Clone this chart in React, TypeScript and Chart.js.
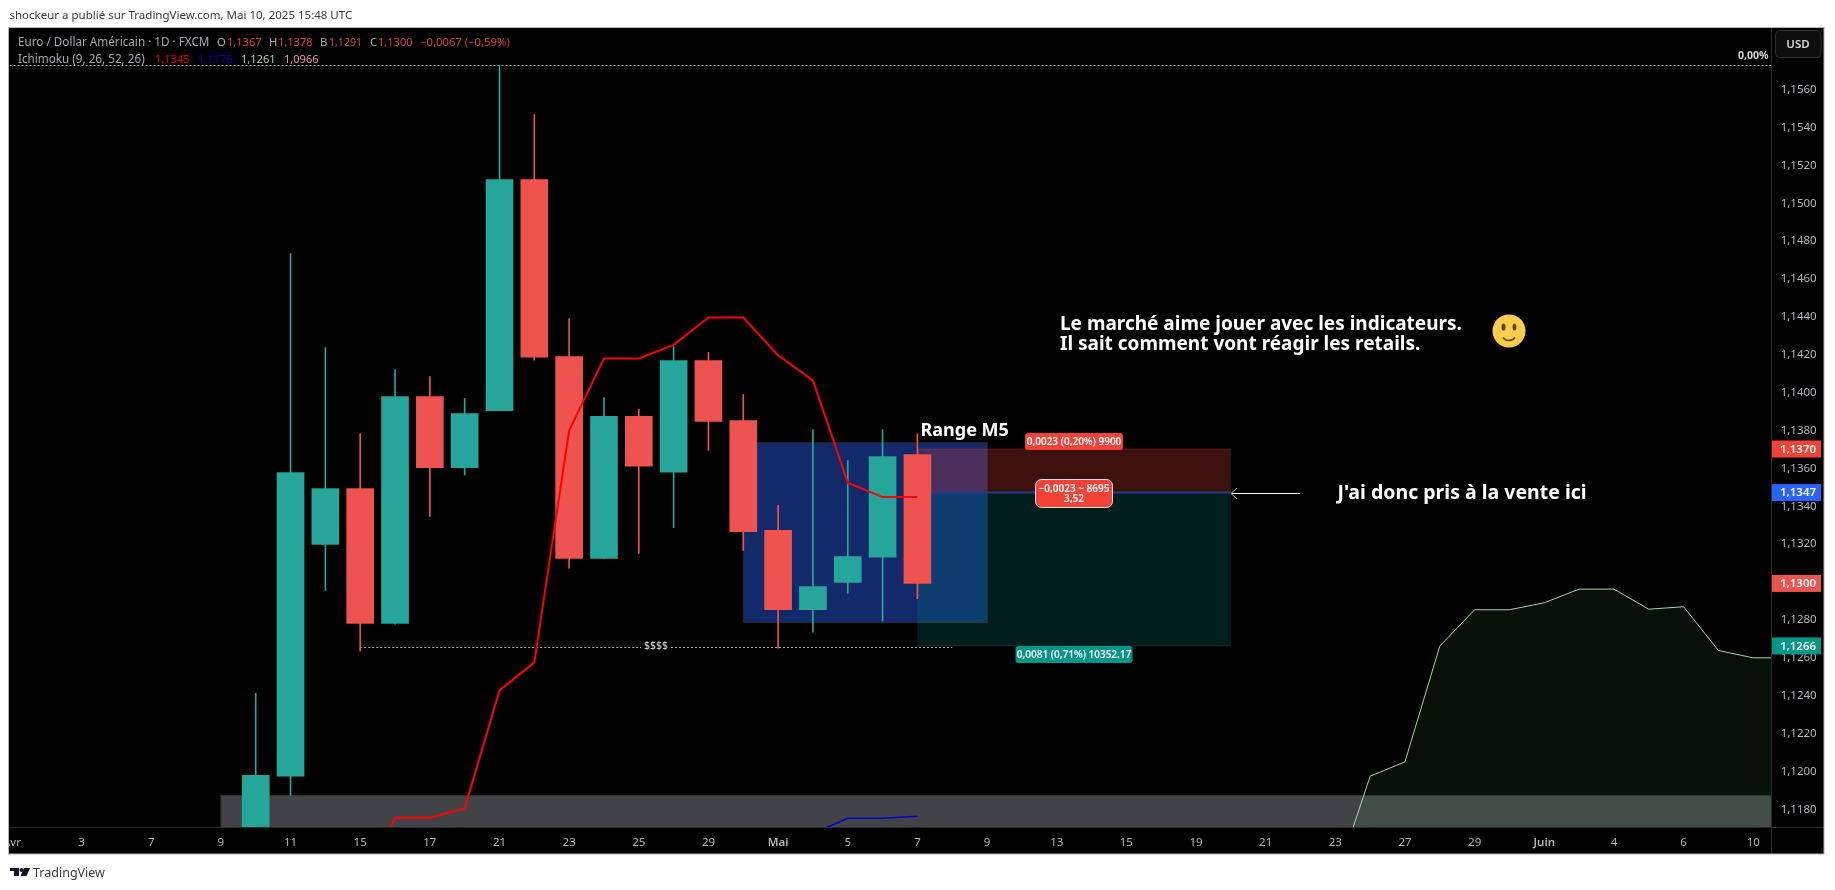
import React, { useEffect, useRef } from "react";
import { Chart, registerables } from "chart.js";

Chart.register(...registerables);

// ---------- data ----------
const categories = [
  "04-01","04-02","04-03","04-04","04-07","04-08","04-09","04-10","04-11","04-14","04-15","04-16","04-17","04-18",
  "04-21","04-22","04-23","04-24","04-25","04-28","04-29","04-30","05-01","05-02","05-05","05-06","05-07","05-08",
  "05-09","05-12","05-13","05-14","05-15","05-16","05-19","05-20","05-21","05-22","05-23","05-26","05-27","05-28",
  "05-29","05-30","06-02","06-03","06-04","06-05","06-06","06-09","06-10",
];
const tickLabels = ["Avr","3","7","9","11","15","17","21","23","25","29","Mai","5","7","9","13","15","19","21","23","27","29","Juin","4","6","10"];
const candleDates = ["04-10","04-11","04-14","04-15","04-16","04-17","04-18","04-21","04-22","04-23","04-24","04-25","04-28","04-29","04-30","05-01","05-02","05-05","05-06","05-07"];
const opens  = [1.0950,1.11972,1.13196,1.13491,1.12779,1.13977,1.13602,1.13903,1.15123,1.14188,1.13122,1.13872,1.13578,1.14167,1.1385,1.1327,1.12852,1.12995,1.13129,1.1367];
const closes = [1.11976,1.13576,1.13491,1.12779,1.13977,1.13602,1.13887,1.15123,1.14185,1.13122,1.13872,1.13609,1.14167,1.13845,1.13264,1.12852,1.12974,1.13132,1.1366,1.1299];
const highs  = [1.12409,1.14732,1.14236,1.13782,1.14118,1.14083,1.13967,1.15725,1.15466,1.14389,1.13972,1.13909,1.14241,1.1421,1.13988,1.13402,1.13803,1.13639,1.13803,1.1378];
const lows   = [1.0950,1.1187,1.12953,1.12632,1.12775,1.13344,1.13562,1.13903,1.14169,1.13071,1.13122,1.13148,1.13285,1.13692,1.13164,1.12648,1.12733,1.12939,1.12791,1.1291];
const tenkanDates = ["04-16","04-17","04-18","04-21","04-22","04-23","04-24","04-25","04-28","04-29","04-30","05-01","05-02","05-05","05-06","05-07"];
const tenkan = [1.11753,1.11753,1.11802,1.12425,1.12573,1.13798,1.14178,1.14178,1.1425,1.14394,1.14394,1.14195,1.14062,1.13522,1.13446,1.13446];
const tenkanLead = { date: "04-15", value: 1.1136 };
const kijunDates = ["05-02","05-05","05-06","05-07"];
const kijun = [1.1167,1.1175,1.1175,1.1176];
const senkouDates = ["05-23","05-26","05-27","05-28","05-29","05-30","06-02","06-03","06-04","06-05","06-06","06-09","06-10"];
const senkouA = [1.1142,1.11972,1.12048,1.12659,1.12851,1.12851,1.12888,1.1296,1.1296,1.12854,1.12867,1.12636,1.12597];
const senkouNext = 1.12597;
const priceTicks = [1.118,1.12,1.122,1.124,1.126,1.128,1.13,1.132,1.134,1.136,1.138,1.14,1.142,1.144,1.146,1.148,1.15,1.152,1.154,1.156];
const priceTags = [
  { value: 1.137, text: "1,1370", color: "#f44336" },
  { value: 1.1347, text: "1,1347", color: "#2962ff" },
  { value: 1.1299, text: "1,1300", color: "#ef5350" },
  { value: 1.1266, text: "1,1266", color: "#009688" },
];
const POS_TOP = 1.137, POS_ENTRY = 1.1347, POS_BOTTOM = 1.1266;
const GRAY_TOP = 1.1187;
const RANGE_TOP = 1.13733, RANGE_BOTTOM = 1.12784;
const LIQ_LEVEL = 1.12655;

const FONT = '"Noto Sans"';
const UP = "#26a69a";
const DOWN = "#ef5350";
const idx = (d: string) => categories.indexOf(d);

function App() {
  const ref = useRef<HTMLCanvasElement | null>(null);
  useEffect(() => {
    const canvas = ref.current!;
    const barColors = opens.map((o, i) => (closes[i] >= o ? UP : DOWN));

    const text = (c: any, s: string, x: number, y: number, font: string, color: string, align: any = "left", maxW?: number) => {
      c.font = font; c.fillStyle = color; c.textAlign = align; c.textBaseline = "middle";
      if (maxW) c.fillText(s, x, y + 1, maxW); else c.fillText(s, x, y + 1);
    };
    const rr = (c: any, x0: number, y0: number, x1: number, y1: number, r: number, fill: string, stroke?: string) => {
      c.beginPath(); c.roundRect(x0, y0, x1 - x0, y1 - y0, r); c.fillStyle = fill; c.fill();
      if (stroke) { c.strokeStyle = stroke; c.lineWidth = 1; c.stroke(); }
    };

    const page = {
      id: "page",
      beforeDraw(ch: any) {
        const c = ch.ctx;
        c.save();
        c.fillStyle = "#ffffff"; c.fillRect(0, 0, 1835, 890);
        c.fillStyle = "#000000"; c.fillRect(9, 27, 1815, 827);
        c.restore();
      },
    };

    const zones = {
      id: "zones",
      beforeDatasetsDraw(ch: any) {
        const c = ch.ctx, xs = ch.scales.x, ys = ch.scales.y, a = ch.chartArea;
        const X = (d: string) => xs.getPixelForValue(idx(d));
        const Y = (v: number) => ys.getPixelForValue(v);
        c.save();
        c.beginPath(); c.rect(a.left, a.top, a.right - a.left, a.bottom - a.top); c.clip();
        // grey zone
        c.fillStyle = "#424347"; c.fillRect(X("04-09"), Y(GRAY_TOP), a.right - X("04-09"), a.bottom - Y(GRAY_TOP));
        c.strokeStyle = "#2e2f32"; c.lineWidth = 1; c.strokeRect(X("04-09"), Y(GRAY_TOP), a.right - X("04-09") + 5, a.bottom - Y(GRAY_TOP) + 5);
        // range M5
        const rx0 = X("04-30"), rx1 = X("05-09"), ry0 = Y(RANGE_TOP), ry1 = Y(RANGE_BOTTOM);
        c.fillStyle = "#12296a"; c.fillRect(rx0, ry0, rx1 - rx0, ry1 - ry0);
        c.strokeStyle = "#2a2a2e"; c.strokeRect(rx0, ry0, rx1 - rx0, ry1 - ry0);
        // position tool
        const px0 = X("05-07"), px1 = X("05-20");
        c.fillStyle = "rgba(244,67,54,0.25)"; c.fillRect(px0, Y(POS_TOP), px1 - px0, Y(POS_ENTRY) - Y(POS_TOP));
        c.fillStyle = "rgba(0,150,136,0.2)"; c.fillRect(px0, Y(POS_ENTRY), px1 - px0, Y(POS_BOTTOM) - Y(POS_ENTRY));
        c.strokeStyle = "rgba(244,67,54,0.25)"; c.beginPath(); c.moveTo(px0, Y(POS_TOP)); c.lineTo(px1, Y(POS_TOP)); c.stroke();
        c.strokeStyle = "rgba(0,150,136,0.3)"; c.beginPath(); c.moveTo(px0, Y(POS_BOTTOM)); c.lineTo(px1, Y(POS_BOTTOM)); c.stroke();
        c.strokeStyle = "#26388c"; c.lineWidth = 2; c.beginPath(); c.moveTo(px0, Y(POS_ENTRY)); c.lineTo(px1, Y(POS_ENTRY)); c.stroke();
        // small marker of the tool
        c.strokeStyle = "#1f2f80"; c.lineWidth = 1; c.beginPath(); c.moveTo(px0 - 5, Y(POS_TOP) + 5); c.lineTo(px0, Y(POS_TOP)); c.lineTo(px0 + 5, Y(POS_TOP) + 5); c.stroke();
        // dotted liquidity level
        c.strokeStyle = "#a9a9a9"; c.lineWidth = 1; c.setLineDash([2, 2]);
        const ly = Math.round(Y(LIQ_LEVEL)) + 0.5;
        const lx0 = X("04-15"), lx1 = X("05-08"), mid = 656;
        c.beginPath(); c.moveTo(lx0, ly); c.lineTo(mid - 15, ly); c.moveTo(mid + 15, ly); c.lineTo(lx1, ly); c.stroke();
        // top dotted line
        c.beginPath(); c.moveTo(a.left, 65.5); c.lineTo(a.right, 65.5); c.stroke();
        c.setLineDash([]);
        c.restore();
      },
    };

    const overlay = {
      id: "overlay",
      afterDraw(ch: any) {
        const c = ch.ctx, ys = ch.scales.y;
        c.save();
        // cover what falls left of the frame
        c.fillStyle = "#ffffff"; c.fillRect(0, 27, 9, 827);
        // axis separators and frame
        c.strokeStyle = "#2a2a2a"; c.lineWidth = 1;
        c.beginPath(); c.moveTo(1771.5, 27); c.lineTo(1771.5, 854); c.moveTo(9, 827.5); c.lineTo(1824, 827.5); c.stroke();
        c.strokeStyle = "#b4b4b4"; c.strokeRect(8.5, 27.5, 1815.5, 826.5);

        // header outside of the frame
        text(c, "shockeur a publié sur TradingView.com, Mai 10, 2025 15:48 UTC", 9.5, 15, `11.5px ${FONT}`, "#3a3a3a");
        const L = `11.7px ${FONT}`;
        const V = `11.3px ${FONT}`;
        const G = "#a5a8b0", R = "#d9443f";
        const y1 = 42, y2 = 59;
        text(c, "Euro / Dollar Américain · 1D · FXCM", 18, y1, L, G);
        ([["O",217,G,0],["1,1367",227,R,34.5],["H",269,G,0],["1,1378",278,R,34.5],["B",320,G,0],["1,1291",329,R,33],["C",370,G,0],["1,1300",378,R,34.5],["−0,0067 (−0,59%)",420,R,91]] as any[])
          .forEach(([s, x, col, w]) => text(c, s, x, y1, V, col, "left", w));
        text(c, "Ichimoku (9, 26, 52, 26)", 18, y2, L, G);
        ([["1,1345",155,"#e60000"],["1,1176",198,"#0000c8"],["1,1261",241,"#a5d6a7"],["1,0966",284,"#ef9a9a"]] as any[])
          .forEach(([s, x, col]) => text(c, s, x, y2, V, col, "left", 34.5));
        text(c, "0,00%", 1738, 55, `bold 10.5px ${FONT}`, "#d6d6d6");

        // USD button
        rr(c, 1775.5, 30.5, 1821, 57.5, 4, "#0e0e0e", "#2e2e2e");
        text(c, "USD", 1798, 44, `600 11.5px ${FONT}`, "#d8d8d8", "center");

        // price tags
        priceTags.forEach((t) => {
          const y = ys.getPixelForValue(t.value);
          c.fillStyle = t.color; c.fillRect(1772, y - 8.5, 49, 17);
          text(c, t.text, 1798, y - 0.5, `600 11.5px ${FONT}`, "#ffffff", "center");
        });

        // position tool labels
        rr(c, 1025, 433, 1123, 450, 3, "#f44336");
        text(c, "0,0023 (0,20%) 9900", 1074, 441, `600 10px ${FONT}`, "#ffffff", "center");
        rr(c, 1035.5, 479.5, 1112.5, 507.5, 6, "#f44336", "#e6e6e6");
        text(c, "−0,0023 ~ 8695", 1074, 488, `600 10px ${FONT}`, "#ffffff", "center");
        text(c, "3,52", 1074, 498.5, `600 10px ${FONT}`, "#ffffff", "center");
        rr(c, 1015.5, 646, 1132.5, 663, 3, "#009688");
        text(c, "0,0081 (0,71%) 10352.17", 1074, 654, `600 10px ${FONT}`, "#ffffff", "center");

        // notes
        const B = `bold 19px ${FONT}`;
        text(c, "Range M5", 920.5, 430, `bold 18px ${FONT}`, "#ffffff");
        text(c, "Le marché aime jouer avec les indicateurs.", 1060, 324, B, "#ffffff");
        text(c, "Il sait comment vont réagir les retails.", 1060, 344, B, "#ffffff");
        text(c, "J'ai donc pris à la vente ici", 1337.5, 492, `bold 19.5px ${FONT}`, "#ffffff");
        text(c, "$$$$", 656, 645, `10.5px ${FONT}`, "#dcdcdc", "center");

        // arrow
        c.strokeStyle = "#ffffff"; c.lineWidth = 1;
        c.beginPath(); c.moveTo(1232, 493.5); c.lineTo(1300, 493.5); c.stroke();
        c.strokeStyle = "#b8b8b8";
        c.beginPath(); c.moveTo(1237, 488); c.lineTo(1231, 493.5); c.lineTo(1237, 499); c.stroke();

        // smiley
        c.fillStyle = "#ffcc4d"; c.beginPath(); c.arc(1509, 331, 16.5, 0, Math.PI * 2); c.fill();
        c.fillStyle = "#664500";
        c.beginPath(); c.ellipse(1503.5, 327, 2, 3.6, 0, 0, Math.PI * 2); c.fill();
        c.beginPath(); c.ellipse(1514.5, 327, 2, 3.6, 0, 0, Math.PI * 2); c.fill();
        c.strokeStyle = "#664500"; c.lineWidth = 1.6;
        c.beginPath(); c.arc(1509, 333, 7.5, 0.2 * Math.PI, 0.8 * Math.PI); c.stroke();

        // brand
        c.fillStyle = "#131722";
        c.fillRect(10, 868, 9, 3); c.fillRect(14, 868, 5, 8);
        c.beginPath(); c.arc(21.5, 870, 2, 0, Math.PI * 2); c.fill();
        c.beginPath(); c.moveTo(24, 868); c.lineTo(30, 868); c.lineTo(26.5, 876); c.lineTo(20.5, 876); c.closePath(); c.fill();
        text(c, "TradingView", 33, 872, `12.5px ${FONT}`, "#3c3c3c");
        c.restore();
      },
    };

    const noPad = (s: any) => { s.paddingLeft = 0; s.paddingRight = 0; s.paddingTop = 0; s.paddingBottom = 0; };

    const chart = new Chart(canvas, {
      type: "bar",
      data: {
        datasets: [
          {
            type: "line", label: "Senkou A", order: 6,
            data: [...senkouDates.map((d, i) => ({ x: idx(d), y: senkouA[i] })), { x: categories.length, y: senkouNext }],
            borderColor: "#a5d6a7", borderWidth: 1, pointRadius: 0, tension: 0,
            fill: "start", backgroundColor: "rgba(67,160,71,0.1)",
          },
          {
            type: "bar", label: "Mèches", order: 5, grouped: false, barThickness: 1,
            data: candleDates.map((d, i) => ({ x: idx(d), y: [lows[i], highs[i]] })),
            backgroundColor: barColors, borderWidth: 0,
          },
          {
            type: "bar", label: "Corps", order: 4, grouped: false, barThickness: 27,
            data: candleDates.map((d, i) => ({ x: idx(d), y: [opens[i], closes[i]] })),
            backgroundColor: barColors, borderWidth: 0,
          },
          {
            type: "line", label: "Kijun", order: 2,
            data: kijunDates.map((d, i) => ({ x: idx(d), y: kijun[i] })),
            borderColor: "#0000c8", borderWidth: 1.5, pointRadius: 0, tension: 0, fill: false,
          },
          {
            type: "line", label: "Tenkan", order: 1,
            data: [{ x: idx(tenkanLead.date), y: tenkanLead.value }, ...tenkanDates.map((d, i) => ({ x: idx(d), y: tenkan[i] }))],
            borderColor: "#ff0000", borderWidth: 2, pointRadius: 0, tension: 0, fill: false,
          },
        ] as any,
      },
      options: {
        responsive: false,
        animation: false,
        devicePixelRatio: 1,
        layout: { autoPadding: false, padding: { left: 9.5, right: 11, top: 27.5, bottom: 35.5 } },
        plugins: { legend: { display: false }, tooltip: { enabled: false }, title: { display: false } },
        scales: {
          x: {
            type: "linear", min: -0.07, max: 50.53, offset: false,
            grid: { display: false, drawTicks: false, offset: false }, border: { display: false },
            afterBuildTicks: (s: any) => { s.ticks = tickLabels.map((_, i) => ({ value: i * 2 })); },
            afterFit: (s: any) => { s.height = 27; noPad(s); },
            ticks: {
              autoSkip: false, maxRotation: 0, padding: 8,
              color: "#b2b5be",
              font: (ctx: any) => {
                const l = tickLabels[(ctx.tick?.value ?? 0) / 2];
                return { family: FONT, size: 11.5, weight: l === "Mai" || l === "Juin" ? 600 : 400 };
              },
              callback: (v: any) => tickLabels[v / 2],
            },
          },
          y: {
            position: "right", min: 1.11701, max: 1.15926,
            grid: { display: false, drawTicks: false }, border: { display: false },
            afterBuildTicks: (s: any) => { s.ticks = priceTicks.map((value) => ({ value })); },
            afterFit: (s: any) => { s.width = 52.3; noPad(s); },
            ticks: {
              autoSkip: false, padding: 9, color: "#b2b5be", labelOffset: 0.5,
              font: { family: FONT, size: 11.5 },
              callback: (v: any) => Number(v).toFixed(4).replace(".", ","),
            },
          },
        },
      } as any,
      plugins: [page, zones, overlay],
    });
    return () => chart.destroy();
  }, []);
  return (
    <div style={{ position: "absolute", left: 0, top: 0, width: 1835, height: 890, overflow: "hidden" }}>
      <canvas ref={ref} width={1835} height={890} style={{ display: "block", width: 1835, height: 890 }} />
    </div>
  );
}

export default App;
